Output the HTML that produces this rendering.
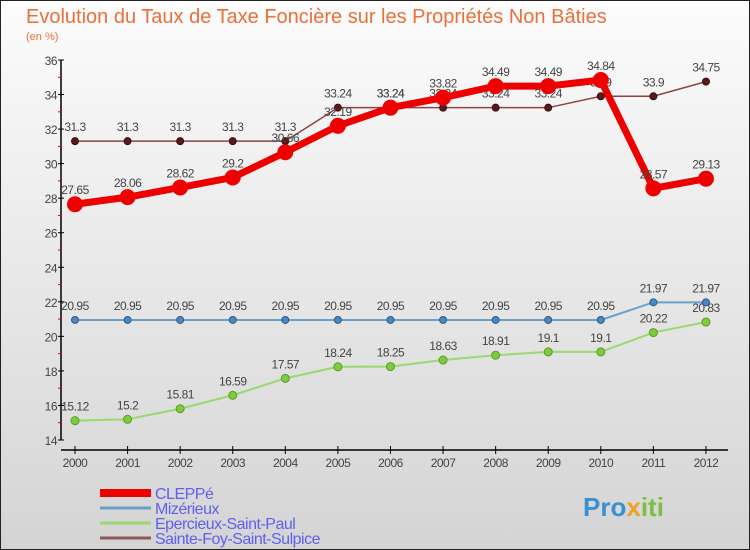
<!DOCTYPE html>
<html><head><meta charset="utf-8"><style>
body{margin:0}
#c{width:750px;height:550px;position:relative;overflow:hidden;font-family:"Liberation Sans","DejaVu Sans",sans-serif}
</style></head><body>
<div id="c">
<svg id="s" width="750" height="550" xmlns="http://www.w3.org/2000/svg">
<defs><linearGradient id="bg" x1="0" y1="0" x2="0" y2="1"><stop offset="0" stop-color="#fcfcfc"/><stop offset="1" stop-color="#d4d4d4"/></linearGradient></defs>
<rect x="0.5" y="0.5" width="749" height="549" fill="url(#bg)" stroke="#222"/>
<text x="26" y="23" font-size="20" fill="#e8703a">Evolution du Taux de Taxe Foncière sur les Propriétés Non Bâties</text>
<text x="26" y="40" font-size="11" fill="#e8703a">(en %)</text>
<g id="axes"></g><g id="marks"></g><g id="legend"></g>
<text x="583" y="516" font-size="26" font-weight="bold" fill="#3a8fd0">Pro<tspan fill="#f0a020">x</tspan><tspan fill="#7bc043">iti</tspan></text>
</svg></div>
<script>
const years=[2000,2001,2002,2003,2004,2005,2006,2007,2008,2009,2010,2011,2012];
const yTicks=[14,16,18,20,22,24,26,28,30,32,34,36];
const cleppe=[27.65,28.06,28.62,29.2,30.66,32.19,33.24,33.82,34.49,34.49,34.84,28.57,29.13];
const mizerieux=[20.95,20.95,20.95,20.95,20.95,20.95,20.95,20.95,20.95,20.95,20.95,21.97,21.97];
const epercieux=[15.12,15.2,15.81,16.59,17.57,18.24,18.25,18.63,18.91,19.1,19.1,20.22,20.83];
const sainteFoy=[31.3,31.3,31.3,31.3,31.3,33.24,33.24,33.24,33.24,33.24,33.9,33.9,34.75];
const NS="http://www.w3.org/2000/svg";
const X=i=>75+i*52.58;
const Y=v=>60+(36-v)*(380/22);
function mk(p,t,a){const e=document.createElementNS(NS,t);for(const k in a)e.setAttribute(k,a[k]);p.appendChild(e);return e;}
const axes=document.getElementById('axes');
let ya=mk(axes,'line',{x1:61,y1:60,x2:61,y2:440,stroke:'#000','stroke-width':1.5});


let xa=mk(axes,'line',{x1:61,y1:450,x2:728,y2:450,stroke:'#000','stroke-width':1.5});


yTicks.forEach((v,i)=>{
  mk(axes,'line',{x1:58,y1:Y(v),x2:64,y2:Y(v),stroke:'#000'});
  if(i<yTicks.length-1)mk(axes,'line',{x1:58,y1:Y(v+1),x2:61,y2:Y(v+1),stroke:'#e00'});
  const t=mk(axes,'text',{x:57,y:Y(v)+5,'font-size':12,'text-anchor':'end',fill:'#444','letter-spacing':'-0.5'});
  t.textContent=v;
  
  
});
years.forEach((y,i)=>{
  mk(axes,'line',{x1:X(i),y1:446,x2:X(i),y2:454,stroke:'#000'});
  const t=mk(axes,'text',{x:X(i),y:467,'font-size':12,'text-anchor':'middle',fill:'#444','letter-spacing':'-0.5'});
  t.textContent=y;
  
  
});
const marks=document.getElementById('marks');
function series(name,vals,color,lw,r,dot,stroke){
  const g=mk(marks,'g',{});
  
  
  const pl=mk(g,'polyline',{points:vals.map((v,i)=>X(i)+','+Y(v)).join(' '),fill:'none',stroke:color,'stroke-width':lw});
  
  
  vals.forEach((v,i)=>{
    const c=mk(g,'circle',{cx:X(i),cy:Y(v),r:r,fill:dot,stroke:stroke,'stroke-width':1});
    
    
    const t=mk(g,'text',{x:X(i),y:Y(v)-10,'font-size':12,'text-anchor':'middle',fill:'#444','letter-spacing':'-0.5'});
    t.textContent=v;
    
    
  });
}
series('epercieux',epercieux,'#9ad870',2,4,'#7ccc3c','#5a9a2a');
series('mizerieux',mizerieux,'#6aa0c8',2,3.5,'#4a88c0','#2a5a8a');
series('sainte-foy',sainteFoy,'#8a4444',1.5,3.5,'#5a1a1a','#3a0a0a');
series('cleppe',cleppe,'#ee0000',7,7.5,'#ee0000','#ee0000');
const legend=document.getElementById('legend');
[['CLEPPé','#ee0000',8],['Mizérieux','#6aa0c8',3],['Epercieux-Saint-Paul','#9ad870',3],['Sainte-Foy-Saint-Sulpice','#8a5a5a',3]].forEach((e,i)=>{
  const y=493+i*15;
  const g=mk(legend,'g',{});
  
  
  mk(g,'line',{x1:100,y1:y,x2:151,y2:y,stroke:e[1],'stroke-width':e[2]});
  const t=mk(g,'text',{x:155,y:y+6,'font-size':16,fill:'#6060f0','letter-spacing':'-0.5'});
  t.textContent=e[0];
});
</script>
</body></html>
